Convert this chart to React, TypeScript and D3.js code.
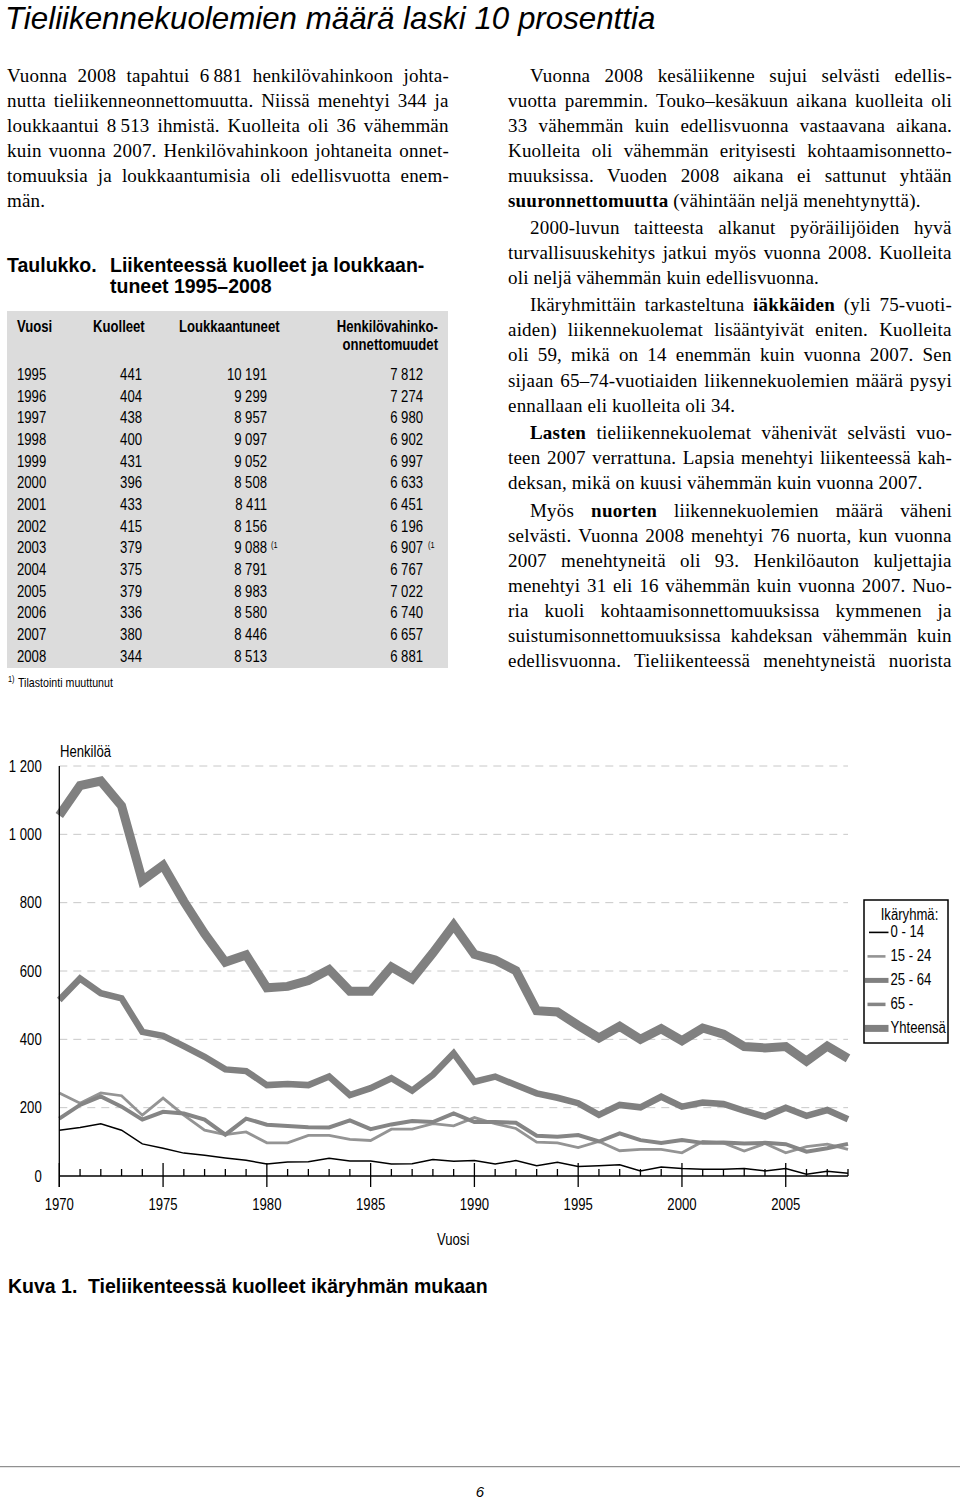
import React, { useEffect, useRef } from 'react';
import * as d3 from 'd3';

// ---------- Chart data (Kuva 1) ----------
const years = [1970, 1971, 1972, 1973, 1974, 1975, 1976, 1977, 1978, 1979, 1980, 1981, 1982, 1983, 1984, 1985, 1986, 1987, 1988, 1989, 1990, 1991, 1992, 1993, 1994, 1995, 1996, 1997, 1998, 1999, 2000, 2001, 2002, 2003, 2004, 2005, 2006, 2007, 2008];
const age0_14 = [134, 142, 153, 134, 94, 81, 67, 61, 53, 46, 35, 41, 42, 52, 44, 44, 35, 36, 48, 43, 45, 35, 45, 30, 40, 28, 30, 33, 15, 26, 22, 20, 20, 22, 15, 22, 5, 14, 8];
const age15_24 = [243, 213, 243, 235, 178, 228, 178, 134, 121, 129, 97, 97, 119, 119, 107, 104, 137, 137, 153, 147, 171, 153, 139, 99, 97, 83, 101, 74, 78, 78, 68, 101, 97, 73, 95, 68, 86, 93, 78];
const age25_64 = [515, 578, 535, 520, 422, 410, 380, 349, 312, 307, 266, 269, 266, 291, 237, 257, 286, 250, 296, 359, 276, 291, 266, 242, 229, 213, 179, 208, 201, 232, 203, 215, 211, 191, 174, 200, 176, 193, 166];
const age65 = [168, 208, 233, 203, 165, 188, 183, 165, 121, 168, 150, 146, 143, 142, 163, 137, 151, 161, 158, 183, 158, 158, 156, 118, 115, 120, 101, 125, 105, 97, 105, 97, 98, 95, 97, 93, 71, 81, 94];
const total = [1055, 1143, 1156, 1083, 865, 909, 804, 709, 626, 647, 551, 555, 572, 604, 541, 541, 612, 577, 653, 734, 649, 632, 601, 484, 480, 441, 404, 438, 400, 431, 396, 433, 415, 379, 375, 379, 336, 380, 344];
const seriesNames = ['0 - 14', '15 - 24', '25 - 64', '65 -', 'Yhteensä'];
const yTicks = [0, 200, 400, 600, 800, 1000, 1200];
const xLabelYears = [1970, 1975, 1980, 1985, 1990, 1995, 2000, 2005];

// ---------- Table data ----------
const tableYears = [1995, 1996, 1997, 1998, 1999, 2000, 2001, 2002, 2003, 2004, 2005, 2006, 2007, 2008];
const tableKuolleet = [441, 404, 438, 400, 431, 396, 433, 415, 379, 375, 379, 336, 380, 344];
const tableLoukkaantuneet = [10191, 9299, 8957, 9097, 9052, 8508, 8411, 8156, 9088, 8791, 8983, 8580, 8446, 8513];
const tableHenkilovahinko = [7812, 7274, 6980, 6902, 6997, 6633, 6451, 6196, 6907, 6767, 7022, 6740, 6657, 6881];
const tableNoteYears = [2003];

// ---------- Text ----------
type Seg = string | { b: string };
type Line = { segs: Seg[]; indent?: boolean; just: boolean };

const leftLines: Line[] = [
  { segs: ['Vuonna 2008 tapahtui 6\u2009881 henkilövahinkoon johta-'], just: true },
  { segs: ['nutta tieliikenneonnettomuutta. Niissä menehtyi 344 ja'], just: true },
  { segs: ['loukkaantui 8\u2009513 ihmistä. Kuolleita oli 36 vähemmän'], just: true },
  { segs: ['kuin vuonna 2007. Henkilövahinkoon johtaneita onnet-'], just: true },
  { segs: ['tomuuksia ja loukkaantumisia oli edellisvuotta enem-'], just: true },
  { segs: ['män.'], just: false },
];

const rightLines: Line[] = [
  { segs: ['Vuonna 2008 kesäliikenne sujui selvästi edellis-'], indent: true, just: true },
  { segs: ['vuotta paremmin. Touko–kesäkuun aikana kuolleita oli'], just: true },
  { segs: ['33 vähemmän kuin edellisvuonna vastaavana aikana.'], just: true },
  { segs: ['Kuolleita oli vähemmän erityisesti kohtaamisonnetto-'], just: true },
  { segs: ['muuksissa. Vuoden 2008 aikana ei sattunut yhtään'], just: true },
  { segs: [{ b: 'suuronnettomuutta' }, ' (vähintään neljä menehtynyttä).'], just: false },
  { segs: ['2000-luvun taitteesta alkanut pyöräilijöiden hyvä'], indent: true, just: true },
  { segs: ['turvallisuuskehitys jatkui myös vuonna 2008. Kuolleita'], just: true },
  { segs: ['oli neljä vähemmän kuin edellisvuonna.'], just: false },
  { segs: ['Ikäryhmittäin tarkasteltuna ', { b: 'iäkkäiden' }, ' (yli 75-vuoti-'], indent: true, just: true },
  { segs: ['aiden) liikennekuolemat lisääntyivät eniten. Kuolleita'], just: true },
  { segs: ['oli 59, mikä on 14 enemmän kuin vuonna 2007. Sen'], just: true },
  { segs: ['sijaan 65–74-vuotiaiden liikennekuolemien määrä pysyi'], just: true },
  { segs: ['ennallaan eli kuolleita oli 34.'], just: false },
  { segs: [{ b: 'Lasten' }, ' tieliikennekuolemat vähenivät selvästi vuo-'], indent: true, just: true },
  { segs: ['teen 2007 verrattuna. Lapsia menehtyi liikenteessä kah-'], just: true },
  { segs: ['deksan, mikä on kuusi vähemmän kuin vuonna 2007.'], just: false },
  { segs: ['Myös ', { b: 'nuorten' }, ' liikennekuolemien määrä väheni'], indent: true, just: true },
  { segs: ['selvästi. Vuonna 2008 menehtyi 76 nuorta, kun vuonna'], just: true },
  { segs: ['2007 menehtyneitä oli 93. Henkilöauton kuljettajia'], just: true },
  { segs: ['menehtyi 31 eli 16 vähemmän kuin vuonna 2007. Nuo-'], just: true },
  { segs: ['ria kuoli kohtaamisonnettomuuksissa kymmenen ja'], just: true },
  { segs: ['suistumisonnettomuuksissa kahdeksan vähemmän kuin'], just: true },
  { segs: ['edellisvuonna. Tieliikenteessä menehtyneistä nuorista'], just: true },
];
const rightBaselines = [81.7, 106.7, 131.7, 156.7, 181.7, 206.7, 234, 259, 284, 311, 336, 361, 386.7, 411.7, 439, 464, 489, 516.7, 541.7, 566.7, 591.7, 616.7, 641.7, 666.7];

const SERIF = "'Liberation Serif', 'Times New Roman', serif";
const SANS = "'Liberation Sans', Arial, sans-serif";
const NARROW = 0.82;

const fmt = d3.formatLocale({ decimal: ',', thousands: ' ', grouping: [3], currency: ['', ''] }).format(',d');

function NText(props: { x: number; y: number; size?: number; anchor?: string; weight?: any; fill?: string; children: any }) {
  const { x, y, size = 16, anchor = 'start', weight = 'normal', fill = '#000', children } = props;
  return (
    <text transform={`translate(${x},${y}) scale(${NARROW},1)`} fontFamily={SANS} fontSize={size} textAnchor={anchor} fontWeight={weight} fill={fill}>
      {children}
    </text>
  );
}

function Para({ lines, baselines, x0, x1, indent }: { lines: Line[]; baselines: number[]; x0: number; x1: number; indent: number }) {
  return (
    <g fontFamily={SERIF} fontSize={19} letterSpacing={0.2} fill="#000">
      {lines.map((ln, i) => {
        const xs = x0 + (ln.indent ? indent : 0);
        return (
          <text key={i} x={xs} y={baselines[i]} className={ln.just ? 'just' : ''} data-w={x1 - xs}>
            {ln.segs.map((s, j) =>
              typeof s === 'string' ? <tspan key={j}>{s}</tspan> : <tspan key={j} fontWeight="bold">{s.b}</tspan>
            )}
          </text>
        );
      })}
    </g>
  );
}

export default function App() {
  const ref = useRef<SVGSVGElement>(null);

  useEffect(() => {
    if (!ref.current) return;
    d3.select(ref.current).selectAll<SVGTextElement, unknown>('text.just').each(function () {
      const el = this as SVGTextElement;
      const target = +(el.getAttribute('data-w') || 0);
      el.setAttribute('word-spacing', '0');
      const bb = el.getBBox();
      const nat = bb.width;
      const spaces = ((el.textContent || '').match(/ /g) || []).length;
      if (spaces > 0) el.setAttribute('word-spacing', String((target - nat) / spaces));
    });
  }, []);

  // chart scales
  const x = d3.scaleLinear().domain([1970, 2008]).range([59.3, 848]);
  const y = d3.scaleLinear().domain([0, 1200]).range([1176, 766]);
  const line = d3.line<number>().x((_, i) => x(years[i])).y((d) => y(d));
  const seriesData = [age0_14, age15_24, age25_64, age65, total];
  const seriesStyle = [
    { color: '#000000', width: 1.5, lw: 1.6 },
    { color: '#949494', width: 2.8, lw: 2.6 },
    { color: '#808080', width: 6.5, lw: 5 },
    { color: '#858585', width: 4, lw: 3.5 },
    { color: '#808080', width: 9, lw: 7 },
  ];

  // table layout
  const rowY = d3.scaleLinear().domain([0, 1]).range([380, 401.67]);

  return (
    <svg ref={ref} width={960} height={1500} style={{ position: 'absolute', left: 0, top: 0, background: '#fff' }}>
      {/* Title */}
      <text x={5} y={28.5} fontFamily={SANS} fontStyle="italic" fontSize={31.3} fill="#000">
        Tieliikennekuolemien määrä laski 10 prosenttia
      </text>

      {/* Left paragraph */}
      <Para lines={leftLines} baselines={rightBaselines.slice(0, 6)} x0={7} x1={449} indent={0} />

      {/* Right column */}
      <Para lines={rightLines} baselines={rightBaselines} x0={508} x1={952} indent={22} />

      {/* Table title */}
      <g fontFamily={SANS} fontWeight="bold" fontSize={19.5} fill="#000">
        <text x={7} y={271.7}>Taulukko.</text>
        <text x={110} y={271.7}>Liikenteessä kuolleet ja loukkaan-</text>
        <text x={110} y={293}>tuneet 1995–2008</text>
      </g>

      {/* Table */}
      <rect x={7} y={311} width={441} height={357} fill="#dcdcdc" />
      <NText x={17} y={331.7} weight={600}>Vuosi</NText>
      <NText x={93} y={331.7} weight={600}>Kuolleet</NText>
      <NText x={179} y={331.7} weight={600}>Loukkaantuneet</NText>
      <NText x={438} y={331.7} weight={600} anchor="end">Henkilövahinko-</NText>
      <NText x={438} y={350} weight={600} anchor="end">onnettomuudet</NText>
      {tableYears.map((yr, i) => {
        const by = rowY(i);
        const note = tableNoteYears.includes(yr);
        return (
          <g key={yr}>
            <NText x={17} y={by}>{String(yr)}</NText>
            <NText x={142} y={by} anchor="end">{fmt(tableKuolleet[i])}</NText>
            <NText x={267} y={by} anchor="end">{fmt(tableLoukkaantuneet[i])}</NText>
            <NText x={423} y={by} anchor="end">{fmt(tableHenkilovahinko[i])}</NText>
            {note && <NText x={271} y={by - 5.5} size={9}>(1</NText>}
            {note && <NText x={428} y={by - 5.5} size={9}>(1</NText>}
          </g>
        );
      })}
      <NText x={8} y={681.5} size={9}>1)</NText>
      <NText x={18} y={686.7} size={13}>Tilastointi muuttunut</NText>

      {/* Chart */}
      <g>
        {yTicks.filter((t) => t > 0).map((t) => (
          <line key={t} x1={x(1970)} x2={x(2008)} y1={y(t)} y2={y(t)} stroke="#c8c8c8" strokeWidth={1} strokeDasharray="8,6" />
        ))}
        {yTicks.map((t) => (
          <NText key={t} x={41.7} y={y(t) + 5.7} anchor="end">{fmt(t)}</NText>
        ))}
        <NText x={60} y={756.7}>Henkilöä</NText>

        {seriesData.map((d, k) => (
          <path key={k} d={line(d) || ''} fill="none" stroke={seriesStyle[k].color} strokeWidth={seriesStyle[k].width} strokeLinejoin="miter" strokeMiterlimit={3} />
        ))}

        {/* axes */}
        <line x1={x(1970)} x2={x(1970)} y1={y(1200)} y2={y(0) + 11} stroke="#000" strokeWidth={1.3} />
        <line x1={x(1970)} x2={x(2008)} y1={y(0)} y2={y(0)} stroke="#000" strokeWidth={1.5} />
        {years.map((yr) => {
          const major = yr % 5 === 0;
          return (
            <line key={yr} x1={x(yr)} x2={x(yr)} y1={y(0) - (major ? 13 : 7)} y2={y(0) + (major ? 11 : 0)} stroke="#000" strokeWidth={1.3} />
          );
        })}
        {xLabelYears.map((yr) => (
          <NText key={yr} x={x(yr)} y={1210} anchor="middle">{String(yr)}</NText>
        ))}
        <NText x={437} y={1245}>Vuosi</NText>

        {/* legend */}
        <rect x={864} y={900} width={84} height={143} fill="#fff" stroke="#000" strokeWidth={1.5} />
        <NText x={909.5} y={920} anchor="middle">Ikäryhmä:</NText>
        {seriesNames.map((n, k) => {
          const ly = 936.7 + k * 24;
          const x0 = k === 0 ? 869 : k === 1 || k === 3 ? 867.5 : 865;
          const x1 = k === 1 || k === 3 ? 885.5 : 888.5;
          return (
            <g key={n}>
              <line x1={x0} x2={x1} y1={ly - 4.3} y2={ly - 4.3} stroke={seriesStyle[k].color} strokeWidth={seriesStyle[k].lw} />
              <NText x={890.5} y={ly}>{n}</NText>
            </g>
          );
        })}
      </g>

      {/* Figure caption */}
      <g fontFamily={SANS} fontWeight="bold" fontSize={19.5} fill="#000">
        <text x={8} y={1293}>Kuva 1.</text>
        <text x={88} y={1293}>Tieliikenteessä kuolleet ikäryhmän mukaan</text>
      </g>

      {/* footer */}
      <line x1={0} x2={960} y1={1466.7} y2={1466.7} stroke="#777" strokeWidth={1} />
      <text x={480} y={1497} fontFamily={SANS} fontStyle="italic" fontSize={15} textAnchor="middle" fill="#000">6</text>
    </svg>
  );
}
